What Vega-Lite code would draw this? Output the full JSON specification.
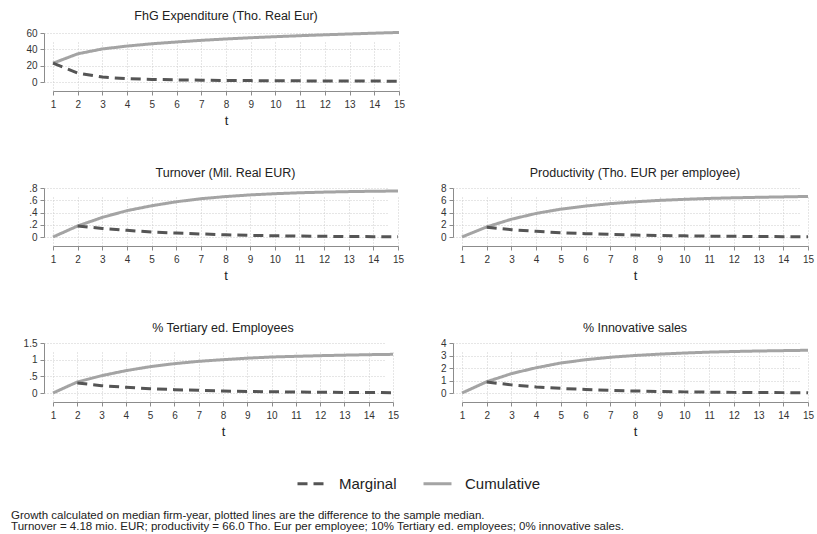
{
  "$schema": "https://vega.github.io/schema/vega-lite/v6.json",
  "background": "white",
  "padding": {"left": 11, "top": 9, "right": 2, "bottom": 1},
  "data": {
    "values": [
      {"panel": "FhG", "series": "Cumulative", "t": 1, "value": 23},
      {"panel": "FhG", "series": "Cumulative", "t": 2, "value": 34.5},
      {"panel": "FhG", "series": "Cumulative", "t": 3, "value": 40.5},
      {"panel": "FhG", "series": "Cumulative", "t": 4, "value": 44},
      {"panel": "FhG", "series": "Cumulative", "t": 5, "value": 46.8},
      {"panel": "FhG", "series": "Cumulative", "t": 6, "value": 49},
      {"panel": "FhG", "series": "Cumulative", "t": 7, "value": 51},
      {"panel": "FhG", "series": "Cumulative", "t": 8, "value": 52.7},
      {"panel": "FhG", "series": "Cumulative", "t": 9, "value": 54.2},
      {"panel": "FhG", "series": "Cumulative", "t": 10, "value": 55.5},
      {"panel": "FhG", "series": "Cumulative", "t": 11, "value": 56.7},
      {"panel": "FhG", "series": "Cumulative", "t": 12, "value": 57.8},
      {"panel": "FhG", "series": "Cumulative", "t": 13, "value": 58.8},
      {"panel": "FhG", "series": "Cumulative", "t": 14, "value": 59.8},
      {"panel": "FhG", "series": "Cumulative", "t": 15, "value": 60.7},
      {"panel": "FhG", "series": "Marginal", "t": 1, "value": 23},
      {"panel": "FhG", "series": "Marginal", "t": 2, "value": 11},
      {"panel": "FhG", "series": "Marginal", "t": 3, "value": 6},
      {"panel": "FhG", "series": "Marginal", "t": 4, "value": 4},
      {"panel": "FhG", "series": "Marginal", "t": 5, "value": 3.2},
      {"panel": "FhG", "series": "Marginal", "t": 6, "value": 2.6},
      {"panel": "FhG", "series": "Marginal", "t": 7, "value": 2.2},
      {"panel": "FhG", "series": "Marginal", "t": 8, "value": 1.9},
      {"panel": "FhG", "series": "Marginal", "t": 9, "value": 1.7},
      {"panel": "FhG", "series": "Marginal", "t": 10, "value": 1.5},
      {"panel": "FhG", "series": "Marginal", "t": 11, "value": 1.4},
      {"panel": "FhG", "series": "Marginal", "t": 12, "value": 1.3},
      {"panel": "FhG", "series": "Marginal", "t": 13, "value": 1.2},
      {"panel": "FhG", "series": "Marginal", "t": 14, "value": 1.1},
      {"panel": "FhG", "series": "Marginal", "t": 15, "value": 1.0},

      {"panel": "Turnover", "series": "Cumulative", "t": 1, "value": 0},
      {"panel": "Turnover", "series": "Cumulative", "t": 2, "value": 0.18},
      {"panel": "Turnover", "series": "Cumulative", "t": 3, "value": 0.32},
      {"panel": "Turnover", "series": "Cumulative", "t": 4, "value": 0.43},
      {"panel": "Turnover", "series": "Cumulative", "t": 5, "value": 0.51},
      {"panel": "Turnover", "series": "Cumulative", "t": 6, "value": 0.575},
      {"panel": "Turnover", "series": "Cumulative", "t": 7, "value": 0.625},
      {"panel": "Turnover", "series": "Cumulative", "t": 8, "value": 0.66},
      {"panel": "Turnover", "series": "Cumulative", "t": 9, "value": 0.687},
      {"panel": "Turnover", "series": "Cumulative", "t": 10, "value": 0.707},
      {"panel": "Turnover", "series": "Cumulative", "t": 11, "value": 0.722},
      {"panel": "Turnover", "series": "Cumulative", "t": 12, "value": 0.733},
      {"panel": "Turnover", "series": "Cumulative", "t": 13, "value": 0.741},
      {"panel": "Turnover", "series": "Cumulative", "t": 14, "value": 0.747},
      {"panel": "Turnover", "series": "Cumulative", "t": 15, "value": 0.751},
      {"panel": "Turnover", "series": "Marginal", "t": 2, "value": 0.18},
      {"panel": "Turnover", "series": "Marginal", "t": 3, "value": 0.14},
      {"panel": "Turnover", "series": "Marginal", "t": 4, "value": 0.11},
      {"panel": "Turnover", "series": "Marginal", "t": 5, "value": 0.08},
      {"panel": "Turnover", "series": "Marginal", "t": 6, "value": 0.065},
      {"panel": "Turnover", "series": "Marginal", "t": 7, "value": 0.05},
      {"panel": "Turnover", "series": "Marginal", "t": 8, "value": 0.035},
      {"panel": "Turnover", "series": "Marginal", "t": 9, "value": 0.027},
      {"panel": "Turnover", "series": "Marginal", "t": 10, "value": 0.02},
      {"panel": "Turnover", "series": "Marginal", "t": 11, "value": 0.015},
      {"panel": "Turnover", "series": "Marginal", "t": 12, "value": 0.011},
      {"panel": "Turnover", "series": "Marginal", "t": 13, "value": 0.008},
      {"panel": "Turnover", "series": "Marginal", "t": 14, "value": 0.006},
      {"panel": "Turnover", "series": "Marginal", "t": 15, "value": 0.004},

      {"panel": "Productivity", "series": "Cumulative", "t": 1, "value": 0},
      {"panel": "Productivity", "series": "Cumulative", "t": 2, "value": 1.65},
      {"panel": "Productivity", "series": "Cumulative", "t": 3, "value": 2.9},
      {"panel": "Productivity", "series": "Cumulative", "t": 4, "value": 3.85},
      {"panel": "Productivity", "series": "Cumulative", "t": 5, "value": 4.55},
      {"panel": "Productivity", "series": "Cumulative", "t": 6, "value": 5.05},
      {"panel": "Productivity", "series": "Cumulative", "t": 7, "value": 5.45},
      {"panel": "Productivity", "series": "Cumulative", "t": 8, "value": 5.75},
      {"panel": "Productivity", "series": "Cumulative", "t": 9, "value": 5.98},
      {"panel": "Productivity", "series": "Cumulative", "t": 10, "value": 6.15},
      {"panel": "Productivity", "series": "Cumulative", "t": 11, "value": 6.3},
      {"panel": "Productivity", "series": "Cumulative", "t": 12, "value": 6.4},
      {"panel": "Productivity", "series": "Cumulative", "t": 13, "value": 6.48},
      {"panel": "Productivity", "series": "Cumulative", "t": 14, "value": 6.55},
      {"panel": "Productivity", "series": "Cumulative", "t": 15, "value": 6.62},
      {"panel": "Productivity", "series": "Marginal", "t": 2, "value": 1.6},
      {"panel": "Productivity", "series": "Marginal", "t": 3, "value": 1.2},
      {"panel": "Productivity", "series": "Marginal", "t": 4, "value": 0.92},
      {"panel": "Productivity", "series": "Marginal", "t": 5, "value": 0.7},
      {"panel": "Productivity", "series": "Marginal", "t": 6, "value": 0.55},
      {"panel": "Productivity", "series": "Marginal", "t": 7, "value": 0.42},
      {"panel": "Productivity", "series": "Marginal", "t": 8, "value": 0.32},
      {"panel": "Productivity", "series": "Marginal", "t": 9, "value": 0.25},
      {"panel": "Productivity", "series": "Marginal", "t": 10, "value": 0.19},
      {"panel": "Productivity", "series": "Marginal", "t": 11, "value": 0.14},
      {"panel": "Productivity", "series": "Marginal", "t": 12, "value": 0.11},
      {"panel": "Productivity", "series": "Marginal", "t": 13, "value": 0.08},
      {"panel": "Productivity", "series": "Marginal", "t": 14, "value": 0.06},
      {"panel": "Productivity", "series": "Marginal", "t": 15, "value": 0.04},

      {"panel": "Tertiary", "series": "Cumulative", "t": 1, "value": 0},
      {"panel": "Tertiary", "series": "Cumulative", "t": 2, "value": 0.33},
      {"panel": "Tertiary", "series": "Cumulative", "t": 3, "value": 0.52},
      {"panel": "Tertiary", "series": "Cumulative", "t": 4, "value": 0.67},
      {"panel": "Tertiary", "series": "Cumulative", "t": 5, "value": 0.79},
      {"panel": "Tertiary", "series": "Cumulative", "t": 6, "value": 0.88},
      {"panel": "Tertiary", "series": "Cumulative", "t": 7, "value": 0.95},
      {"panel": "Tertiary", "series": "Cumulative", "t": 8, "value": 1.0},
      {"panel": "Tertiary", "series": "Cumulative", "t": 9, "value": 1.045},
      {"panel": "Tertiary", "series": "Cumulative", "t": 10, "value": 1.08},
      {"panel": "Tertiary", "series": "Cumulative", "t": 11, "value": 1.1},
      {"panel": "Tertiary", "series": "Cumulative", "t": 12, "value": 1.12},
      {"panel": "Tertiary", "series": "Cumulative", "t": 13, "value": 1.135},
      {"panel": "Tertiary", "series": "Cumulative", "t": 14, "value": 1.15},
      {"panel": "Tertiary", "series": "Cumulative", "t": 15, "value": 1.16},
      {"panel": "Tertiary", "series": "Marginal", "t": 2, "value": 0.3},
      {"panel": "Tertiary", "series": "Marginal", "t": 3, "value": 0.22},
      {"panel": "Tertiary", "series": "Marginal", "t": 4, "value": 0.17},
      {"panel": "Tertiary", "series": "Marginal", "t": 5, "value": 0.13},
      {"panel": "Tertiary", "series": "Marginal", "t": 6, "value": 0.1},
      {"panel": "Tertiary", "series": "Marginal", "t": 7, "value": 0.08},
      {"panel": "Tertiary", "series": "Marginal", "t": 8, "value": 0.06},
      {"panel": "Tertiary", "series": "Marginal", "t": 9, "value": 0.047},
      {"panel": "Tertiary", "series": "Marginal", "t": 10, "value": 0.037},
      {"panel": "Tertiary", "series": "Marginal", "t": 11, "value": 0.028},
      {"panel": "Tertiary", "series": "Marginal", "t": 12, "value": 0.022},
      {"panel": "Tertiary", "series": "Marginal", "t": 13, "value": 0.017},
      {"panel": "Tertiary", "series": "Marginal", "t": 14, "value": 0.013},
      {"panel": "Tertiary", "series": "Marginal", "t": 15, "value": 0.01},

      {"panel": "Innovative", "series": "Cumulative", "t": 1, "value": 0},
      {"panel": "Innovative", "series": "Cumulative", "t": 2, "value": 0.9},
      {"panel": "Innovative", "series": "Cumulative", "t": 3, "value": 1.55},
      {"panel": "Innovative", "series": "Cumulative", "t": 4, "value": 2.02},
      {"panel": "Innovative", "series": "Cumulative", "t": 5, "value": 2.4},
      {"panel": "Innovative", "series": "Cumulative", "t": 6, "value": 2.66},
      {"panel": "Innovative", "series": "Cumulative", "t": 7, "value": 2.86},
      {"panel": "Innovative", "series": "Cumulative", "t": 8, "value": 3.0},
      {"panel": "Innovative", "series": "Cumulative", "t": 9, "value": 3.11},
      {"panel": "Innovative", "series": "Cumulative", "t": 10, "value": 3.2},
      {"panel": "Innovative", "series": "Cumulative", "t": 11, "value": 3.27},
      {"panel": "Innovative", "series": "Cumulative", "t": 12, "value": 3.32},
      {"panel": "Innovative", "series": "Cumulative", "t": 13, "value": 3.36},
      {"panel": "Innovative", "series": "Cumulative", "t": 14, "value": 3.39},
      {"panel": "Innovative", "series": "Cumulative", "t": 15, "value": 3.42},
      {"panel": "Innovative", "series": "Marginal", "t": 2, "value": 0.88},
      {"panel": "Innovative", "series": "Marginal", "t": 3, "value": 0.65},
      {"panel": "Innovative", "series": "Marginal", "t": 4, "value": 0.48},
      {"panel": "Innovative", "series": "Marginal", "t": 5, "value": 0.37},
      {"panel": "Innovative", "series": "Marginal", "t": 6, "value": 0.28},
      {"panel": "Innovative", "series": "Marginal", "t": 7, "value": 0.21},
      {"panel": "Innovative", "series": "Marginal", "t": 8, "value": 0.16},
      {"panel": "Innovative", "series": "Marginal", "t": 9, "value": 0.12},
      {"panel": "Innovative", "series": "Marginal", "t": 10, "value": 0.09},
      {"panel": "Innovative", "series": "Marginal", "t": 11, "value": 0.07},
      {"panel": "Innovative", "series": "Marginal", "t": 12, "value": 0.05},
      {"panel": "Innovative", "series": "Marginal", "t": 13, "value": 0.04},
      {"panel": "Innovative", "series": "Marginal", "t": 14, "value": 0.03},
      {"panel": "Innovative", "series": "Marginal", "t": 15, "value": 0.02}
    ]
  },
  "title": {
    "text": [
      "Growth calculated on median firm-year, plotted lines are the difference to the sample median.",
      "Turnover = 4.18 mio. EUR; productivity = 66.0 Tho. Eur per employee; 10% Tertiary ed. employees; 0% innovative sales."
    ],
    "orient": "bottom",
    "anchor": "start",
    "fontSize": 11.5,
    "fontWeight": "normal",
    "color": "#222222",
    "lineHeight": 11,
    "offset": 18,
    "dx": -12
  },
  "columns": 1,
  "spacing": 39,
  "align": "none",
  "concat": [
    {
      "title": "FhG Expenditure (Tho. Real Eur)",
      "width": 346,
      "height": 49,
      "transform": [{"filter": "datum.panel == 'FhG'"}],
      "mark": {"type": "line"},
      "encoding": {
        "x": {"field": "t", "type": "quantitative", "scale": {"domain": [1, 15], "nice": false}, "axis": {"values": [1, 2, 3, 4, 5, 6, 7, 8, 9, 10, 11, 12, 13, 14, 15], "title": "t"}},
        "y": {"field": "value", "type": "quantitative", "scale": {"domain": [0, 60], "nice": false}, "axis": {"values": [0, 20, 40, 60], "title": null}},
        "color": {"field": "series", "type": "nominal", "scale": {"domain": ["Marginal", "Cumulative"], "range": ["#555555", "#a4a4a4"]}, "legend": {"title": null}},
        "strokeDash": {"field": "series", "type": "nominal", "scale": {"domain": ["Marginal", "Cumulative"], "range": [[10, 6], [1, 0]]}, "legend": {"title": null}}
      }
    },
    {
      "hconcat": [
        {
          "title": "Turnover (Mil. Real EUR)",
          "width": 345,
          "height": 49,
          "transform": [{"filter": "datum.panel == 'Turnover'"}],
          "mark": {"type": "line"},
          "encoding": {
            "x": {"field": "t", "type": "quantitative", "scale": {"domain": [1, 15], "nice": false}, "axis": {"values": [1, 2, 3, 4, 5, 6, 7, 8, 9, 10, 11, 12, 13, 14, 15], "title": "t"}},
            "y": {"field": "value", "type": "quantitative", "scale": {"domain": [0, 0.8], "nice": false}, "axis": {"values": [0, 0.2, 0.4, 0.6, 0.8], "title": null, "labelExpr": "datum.value == 0 ? '0' : slice(format(datum.value, '.1f'), 1)"}},
            "color": {"field": "series", "type": "nominal", "scale": {"domain": ["Marginal", "Cumulative"], "range": ["#555555", "#a4a4a4"]}, "legend": {"title": null}},
            "strokeDash": {"field": "series", "type": "nominal", "scale": {"domain": ["Marginal", "Cumulative"], "range": [[10, 6], [1, 0]]}, "legend": {"title": null}}
          }
        },
        {
          "title": "Productivity (Tho. EUR per employee)",
          "width": 346,
          "height": 49,
          "transform": [{"filter": "datum.panel == 'Productivity'"}],
          "mark": {"type": "line"},
          "encoding": {
            "x": {"field": "t", "type": "quantitative", "scale": {"domain": [1, 15], "nice": false}, "axis": {"values": [1, 2, 3, 4, 5, 6, 7, 8, 9, 10, 11, 12, 13, 14, 15], "title": "t"}},
            "y": {"field": "value", "type": "quantitative", "scale": {"domain": [0, 8], "nice": false}, "axis": {"values": [0, 2, 4, 6, 8], "title": null}},
            "color": {"field": "series", "type": "nominal", "scale": {"domain": ["Marginal", "Cumulative"], "range": ["#555555", "#a4a4a4"]}, "legend": {"title": null}},
            "strokeDash": {"field": "series", "type": "nominal", "scale": {"domain": ["Marginal", "Cumulative"], "range": [[10, 6], [1, 0]]}, "legend": {"title": null}}
          }
        }
      ],
      "spacing": 36
    },
    {
      "hconcat": [
        {
          "title": "% Tertiary ed. Employees",
          "width": 340,
          "height": 50,
          "transform": [{"filter": "datum.panel == 'Tertiary'"}],
          "mark": {"type": "line"},
          "encoding": {
            "x": {"field": "t", "type": "quantitative", "scale": {"domain": [1, 15], "nice": false}, "axis": {"values": [1, 2, 3, 4, 5, 6, 7, 8, 9, 10, 11, 12, 13, 14, 15], "title": "t"}},
            "y": {"field": "value", "type": "quantitative", "scale": {"domain": [0, 1.5], "nice": false}, "axis": {"values": [0, 0.5, 1, 1.5], "title": null, "labelExpr": "datum.value == 0 ? '0' : datum.value < 1 ? slice(format(datum.value, '.1f'), 1) : format(datum.value, '~g')"}},
            "color": {"field": "series", "type": "nominal", "scale": {"domain": ["Marginal", "Cumulative"], "range": ["#555555", "#a4a4a4"]}, "legend": {"title": null}},
            "strokeDash": {"field": "series", "type": "nominal", "scale": {"domain": ["Marginal", "Cumulative"], "range": [[10, 6], [1, 0]]}, "legend": {"title": null}}
          }
        },
        {
          "title": "% Innovative sales",
          "width": 346,
          "height": 50,
          "transform": [{"filter": "datum.panel == 'Innovative'"}],
          "mark": {"type": "line"},
          "encoding": {
            "x": {"field": "t", "type": "quantitative", "scale": {"domain": [1, 15], "nice": false}, "axis": {"values": [1, 2, 3, 4, 5, 6, 7, 8, 9, 10, 11, 12, 13, 14, 15], "title": "t"}},
            "y": {"field": "value", "type": "quantitative", "scale": {"domain": [0, 4], "nice": false}, "axis": {"values": [0, 1, 2, 3, 4], "title": null}},
            "color": {"field": "series", "type": "nominal", "scale": {"domain": ["Marginal", "Cumulative"], "range": ["#555555", "#a4a4a4"]}, "legend": {"title": null}},
            "strokeDash": {"field": "series", "type": "nominal", "scale": {"domain": ["Marginal", "Cumulative"], "range": [[10, 6], [1, 0]]}, "legend": {"title": null}}
          }
        }
      ],
      "spacing": 41
    }
  ],
  "config": {
    "font": "Liberation Sans",
    "view": {"stroke": null},
    "line": {"strokeWidth": 3},
    "title": {"fontSize": 12.5, "fontWeight": "normal", "color": "#222222", "offset": 4},
    "axis": {
      "labelFontSize": 10,
      "labelColor": "#333333",
      "labelPadding": 3,
      "domainColor": "#8c8c8c",
      "tickColor": "#8c8c8c",
      "tickSize": 4,
      "gridColor": "#cccccc",
      "gridDash": [1, 2],
      "titleFontSize": 13,
      "titleFontWeight": "normal",
      "titleColor": "#222222",
      "titlePadding": 5,
      "offset": 9
    },
    "axisX": {"labelFlush": false, "labelPadding": 4},
    "legend": {
      "orient": "bottom",
      "direction": "horizontal",
      "labelFontSize": 15,
      "labelColor": "#222222",
      "symbolType": "stroke",
      "symbolSize": 784,
      "symbolStrokeWidth": 3,
      "labelOffset": 12,
      "columnPadding": 20,
      "offset": 30,
      "layout": {"bottom": {"anchor": "middle"}}
    }
  }
}
